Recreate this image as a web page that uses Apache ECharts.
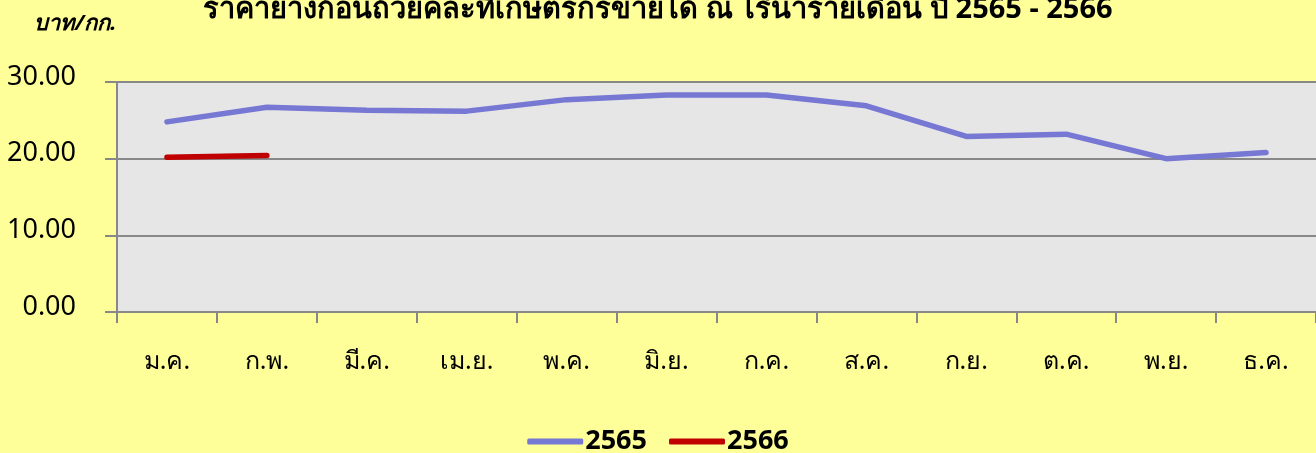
<!DOCTYPE html>
<html>
<head>
<meta charset="utf-8">
<script src="https://cdn.jsdelivr.net/npm/echarts@6/dist/echarts.min.js"></script>
<style>
  html, body { margin: 0; padding: 0; background: #FFFF99; }
  #chart { width: 1316px; height: 453px; }
</style>
</head>
<body>
<div id="chart"></div>
<script>
// month labels (Thai)
const months = ['ม.ค.', 'ก.พ.', 'มี.ค.', 'เม.ย.', 'พ.ค.', 'มิ.ย.', 'ก.ค.', 'ส.ค.', 'ก.ย.', 'ต.ค.', 'พ.ย.', 'ธ.ค.']
// baht per kg
const price2565 = [24.8, 26.7, 26.3, 26.2, 27.7, 28.3, 28.3, 26.9, 22.9, 23.2, 20.0, 20.8]
const price2566 = [20.2, 20.4]

const titleText = 'ราคายางก้อนถ้วยคละที่เกษตรกรขายได้ ณ ไร่นารายเดือน ปี 2565 - 2566'
const font = '"Noto Sans", Tahoma, sans-serif'

let chart = echarts.init(document.getElementById('chart'))
chart.setOption({
  backgroundColor: '#FFFF99',
  animation: false,
  title: {
    text: titleText,
    left: 'center',
    top: -10,
    textStyle: { fontFamily: font, fontSize: 29, fontWeight: 'bold', color: '#000' }
  },
  graphic: [{
    type: 'text',
    left: 34,
    top: 13,
    style: { text: 'บาท/กก.', font: 'italic bold 22px ' + font, fill: '#000' }
  }],
  legend: {
    bottom: -7,
    left: 'center',
    icon: 'roundRect',
    itemWidth: 56,
    itemHeight: 6,
    itemGap: 22,
    textStyle: { fontFamily: font, fontSize: 27, fontWeight: 'bold', color: '#000', padding: [0, 0, 0, -3] },
    data: ['2565', '2566']
  },
  grid: {
    left: 117,
    top: 82,
    right: -6,
    height: 230,
    show: true,
    backgroundColor: '#E6E6E6',
    borderWidth: 0
  },
  xAxis: {
    type: 'category',
    data: months,
    boundaryGap: true,
    axisLine: { lineStyle: { color: '#888', width: 2 } },
    axisTick: { show: true, length: 11, lineStyle: { color: '#888', width: 2 } },
    axisLabel: { margin: 37, fontFamily: font, fontSize: 25, color: '#000' }
  },
  yAxis: {
    type: 'value',
    min: 0,
    max: 30,
    interval: 10,
    axisLine: { show: true, lineStyle: { color: '#888', width: 2 } },
    axisTick: { show: true, length: 12, lineStyle: { color: '#888', width: 2 } },
    splitLine: { lineStyle: { color: '#888', width: 2 } },
    axisLabel: {
      margin: 41,
      fontFamily: font,
      fontSize: 27,
      color: '#000',
      verticalAlign: 'bottom',
      lineHeight: 10,
      formatter: v => v.toFixed(2)
    }
  },
  series: [
    {
      name: '2565',
      type: 'line',
      data: price2565,
      symbol: 'none',
      color: '#7777D4',
      lineStyle: { width: 5.5, color: '#7777D4', cap: 'round' }
    },
    {
      name: '2566',
      type: 'line',
      data: price2566,
      symbol: 'none',
      color: '#C00000',
      lineStyle: { width: 5.5, color: '#C00000', cap: 'round' }
    }
  ]
})
</script>
</body>
</html>
